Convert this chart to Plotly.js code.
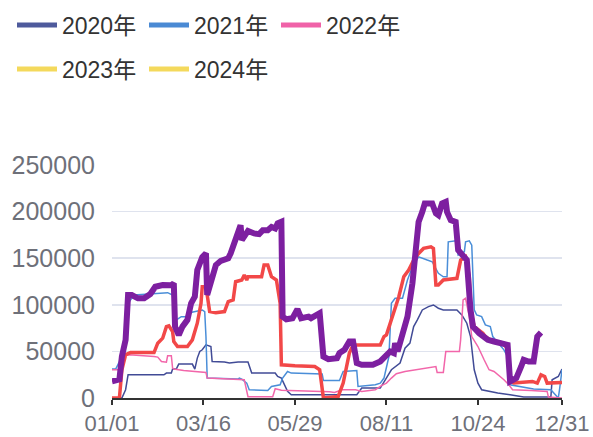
<!DOCTYPE html>
<html><head><meta charset="utf-8">
<script src="https://cdn.plot.ly/plotly-3.0.1.min.js"></script>
<style>html,body{margin:0;padding:0;background:#fff}#chart{width:593px;height:437px}</style>
</head><body><div id="chart"></div>
<script>
const seriesNames = ['2020年','2021年','2022年','2023年','2024年'];
const tickDays = [0,74,148,222,296,364];
const tickLabels = ['01/01','03/16','05/29','08/11','10/24','12/31'];
const yTicks = [0,50000,100000,150000,200000,250000];

const days2020 = [0,8,11,13,42,44,48,49,52,54,65,67,69,71,73,76,80,81,91,95,102,110,113,132,134,137,142,145,198,202,217,221,226,233,237,241,244,247,251,256,260,264,268,279,283,287,290,293,296,299,312,322,333,355,356,361,364];
const vals2020 = [0,0,8900,24900,24900,26750,26750,31000,31000,36400,36400,31000,42800,49900,51700,57000,55200,39200,38500,37450,38500,38500,26750,26750,23100,21400,7100,3500,3500,10700,10700,19600,30300,37450,53500,58850,76600,83800,94500,98000,99800,96300,94500,94500,89100,80250,65900,30300,16000,8900,5350,3500,1000,1000,19600,23100,31000];

const days2021 = [0,3,6,8,11,14,18,42,45,49,50,56,60,61,73,75,76,77,102,103,105,109,111,126,129,136,138,142,145,170,171,184,187,198,199,213,217,220,224,226,229,235,239,243,248,255,259,264,268,271,272,278,280,285,286,289,291,293,295,299,302,306,308,317,320,322,331,341,355,359,361,362,364];
const vals2021 = [31000,31000,39200,49900,73000,103400,110500,112300,113000,110500,82000,87300,87300,91000,94500,92700,65900,21400,20300,21400,20300,16000,8900,8100,12400,14200,21400,28500,26750,25700,18800,18800,28500,29500,12400,14200,16000,21400,44500,101600,107000,107000,126600,140800,151500,148000,146200,133750,130100,130100,167600,168600,153300,156900,167600,168600,164000,94500,89100,87300,78400,76600,65900,51700,44500,14200,12400,9600,8900,2500,0,8900,30300];

const days2022 = [0,6,10,14,34,37,40,44,45,48,49,50,58,69,76,77,107,110,130,132,137,176,180,186,197,202,213,218,222,226,230,237,248,262,263,268,270,281,282,284,286,289,291,296,301,305,309,314,317,321,324,339,352,353,364];
const vals2022 = [30300,30300,45300,46300,44500,43900,39200,38500,45300,45300,32100,31000,29500,28500,27400,21400,19600,1400,1400,10000,8300,6700,6000,8900,8900,7100,8900,13200,16000,21400,26000,28500,31000,33800,27400,27400,49900,49900,62400,105200,107000,87300,65900,55200,41000,30300,28500,23100,19600,14200,8900,8100,7100,1000,0];

const days2023 = [0,6,8,11,15,34,37,41,44,46,49,50,53,61,65,69,72,73,76,79,84,91,94,98,100,105,107,109,110,121,123,126,129,133,136,137,148,164,168,171,183,187,192,195,217,220,222,225,228,232,236,240,244,248,252,258,260,262,264,268,279,282,286,289,290,293,300,302,306,317,320,322,325,336,340,344,347,350,352,364];
const vals2023 = [0,0,30300,46300,48800,48800,58850,64200,76600,77400,71300,60600,55200,55200,62400,80250,101650,119400,119400,92700,91600,92700,103400,105200,124800,126600,131900,126600,130100,130100,142600,142600,130100,126600,101650,35600,34600,33800,30300,0,1700,16000,48150,57000,57000,65900,67700,80250,93000,108700,130100,137300,148000,155150,160500,162200,160500,121200,121200,126600,128400,148000,151500,130100,94500,76600,69550,65900,62400,58850,51700,17800,16000,16700,17800,16000,24900,23100,16000,16700];

const days2024 = [0,6,8,11,13,16,21,26,31,35,41,48,50,51,54,57,61,64,67,69,73,76,77,81,84,88,94,96,98,100,104,105,107,110,115,119,122,126,129,132,134,137,138,141,146,150,153,159,161,168,171,175,182,184,188,192,195,198,202,211,217,221,225,228,229,231,235,239,243,247,248,251,253,259,262,264,267,270,271,274,278,280,285,287,290,292,297,304,309,317,320,322,327,331,333,337,341,343,344,347];
const vals2024 = [18000,20000,44500,62400,110500,110500,107000,107000,111600,119400,121200,121000,123000,76600,67700,76600,83800,101700,108700,137300,151200,155200,110500,130100,142600,147200,149800,155200,164000,169400,185400,169400,174700,179300,176600,175800,180100,180100,183600,181900,187300,189000,87300,84500,85600,95200,85600,87300,85600,90950,44500,41700,42800,48150,51700,60600,60600,37450,35600,35600,39200,44500,49900,48150,58850,49900,69550,87300,123000,172900,189000,199700,208650,208650,198000,196100,208650,210400,199700,190800,189000,158700,151500,148000,94500,76600,69550,62400,60600,58850,57000,17800,21400,33800,41000,39200,39200,57000,65900,70200];

const allDays = [days2020, days2021, days2022, days2023, days2024];
const allVals = [vals2020, vals2021, vals2022, vals2023, vals2024];
const lineColors = ['#414b96','#4a8ed8','#f266aa','#f24848','#7d1fa0'];
const lineWidths = [1.5,1.5,1.5,3.5,6];
const legendColors = ['#4e5a9c','#4a8ad4','#f062a8','#f4d95c','#f4d95c'];

const traces = [];
for (let i = 0; i < 5; i++) {
  traces.push({
    type:'scatter', mode:'lines', name: seriesNames[i],
    x:[null], y:[null], showlegend:true,
    legend: i < 3 ? 'legend' : 'legend2',
    line:{color: legendColors[i], width:5}, hoverinfo:'skip'
  });
}
for (let i = 0; i < 5; i++) {
  traces.push({
    type:'scatter', mode:'lines', name: seriesNames[i],
    x: allDays[i], y: allVals[i], showlegend:false,
    line:{color: lineColors[i], width: lineWidths[i], shape:'linear'},
    hoverinfo:'skip'
  });
}

const FONT = 'Liberation Sans, Arial, Noto Sans CJK SC, sans-serif';
const legendBase = {
  orientation:'h', xref:'container', x: 12/593, xanchor:'left',
  yref:'container', yanchor:'middle',
  font:{family:FONT, size:23, color:'#333'},
  entrywidth: 77, itemwidth: 40, bgcolor:'rgba(0,0,0,0)', borderwidth:0, traceorder:'normal'
};
const layout = {
  width:593, height:437,
  margin:{l:112, r:31, t:165, b:39},
  paper_bgcolor:'#fff', plot_bgcolor:'#fff',
  font:{family:FONT},
  showlegend:true,
  legend: Object.assign({}, legendBase, {y: 1 - 25/437}),
  legend2: Object.assign({}, legendBase, {y: 1 - 69/437}),
  hovermode:false,
  xaxis:{
    type:'linear', range:[0,364], tickvals: tickDays, ticktext: tickLabels,
    showgrid:false, zeroline:false, showline:true, linecolor:'#333', linewidth:2,
    ticks:'outside', ticklen:5, tickwidth:2, tickcolor:'#333',
    tickfont:{family:FONT, size:22, color:'#6e7079'}, fixedrange:true
  },
  yaxis:{
    range:[0,250000], tickvals: yTicks, ticktext: yTicks.map(String),
    showgrid:true, gridcolor:'#dfe3ee', gridwidth:1.5, zeroline:false, showline:false,
    ticks:'', ticklabelstandoff: 16,
    tickfont:{family:FONT, size:25, color:'#6e7079'}, fixedrange:true
  }
};
Plotly.newPlot('chart', traces, layout, {displayModeBar:false, staticPlot:true});
</script>
</body></html>
